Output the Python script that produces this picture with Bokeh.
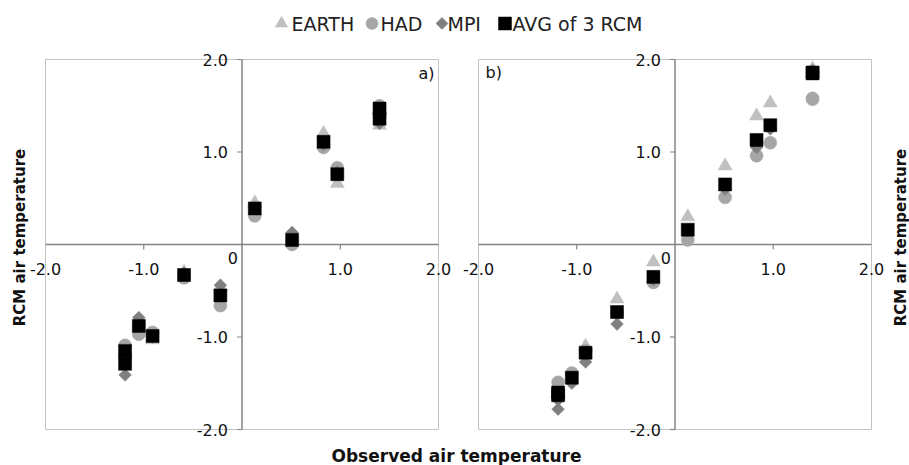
import numpy as np
from bokeh.plotting import figure
from bokeh.models import Range1d, Label
from bokeh.core.properties import value
from bokeh.embed import file_html
from bokeh.resources import INLINE

# ---------------- data ----------------
series_names = ["EARTH", "HAD", "MPI", "AVG of 3 RCM"]
observed = [-1.19, -1.19, -1.05, -0.91, -0.59, -0.22, 0.13, 0.51, 0.83, 0.97, 1.40, 1.40]

earth_a = [-1.15, -1.25, -0.86, -1.03, -0.30, -0.46, 0.45, 0.08, 1.20, 0.66, 1.45, 1.29]
had_a = [-1.09, -1.22, -0.97, -0.95, -0.36, -0.66, 0.31, 0.00, 1.05, 0.83, 1.50, 1.37]
mpi_a = [-1.18, -1.41, -0.79, -1.00, -0.31, -0.44, 0.40, 0.13, 1.08, 0.78, 1.46, 1.31]
avg_a = [-1.15, -1.29, -0.88, -0.99, -0.33, -0.55, 0.39, 0.05, 1.11, 0.76, 1.47, 1.36]

earth_b = [-1.60, -1.62, -1.42, -1.10, -0.59, -0.19, 0.30, 0.85, 1.39, 1.53, 1.90, 1.86]
had_b = [-1.49, -1.58, -1.39, -1.15, -0.74, -0.41, 0.05, 0.51, 0.96, 1.10, 1.58, 1.57]
mpi_b = [-1.68, -1.78, -1.50, -1.27, -0.86, -0.38, 0.15, 0.60, 1.05, 1.25, 1.88, 1.85]
avg_b = [-1.60, -1.63, -1.44, -1.17, -0.73, -0.35, 0.16, 0.65, 1.13, 1.29, 1.86, 1.85]

tick_values = [-2.0, -1.0, 1.0, 2.0]
tick_labels = ["-2.0", "-1.0", "1.0", "2.0"]
zero_label = "0"
panel_tags = ["a)", "b)"]
x_title = "Observed air temperature"
y_title = "RCM air temperature"

# ---------------- layout / style ----------------
W, H = 909, 465
PX = 393.0           # pixels for the 4-unit panel width
PY = 370.0           # pixels for the 4-unit panel height
LEFT_X0, RIGHT_X0, PANEL_Y0 = 45, 478, 36
lo, hi = min(tick_values), max(tick_values)
ux = (hi - lo) / PX
uy = (hi - lo) / PY

FONT = "DejaVu Sans"
TXT = "#111111"
markers = ["triangle", "circle", "square", "square"]
angles = [0, 0, np.pi / 4, 0]
sizes = [14, 13, 9, 13]
colors = ["#c0c0c0", "#a6a6a6", "#7f7f7f", "#000000"]

# legend layout (screen pixels, from the left / from the top)
LEG_MARK_X = [281, 371.5, 441.5, 504.5]
LEG_TEXT_X = [291, 380, 447, 512]
LEG_Y = 23
leg_sizes = [12.5, 12, 8.5, 13]

p = figure(width=W, height=H, output_backend="svg", toolbar_location=None,
           x_axis_type=None, y_axis_type=None,
           x_range=Range1d(0, W), y_range=Range1d(H, 0),
           min_border=0, outline_line_color=None)
p.title.visible = False
p.extra_x_ranges = {
    "a": Range1d(lo - LEFT_X0 * ux, lo + (W - LEFT_X0) * ux),
    "b": Range1d(lo - RIGHT_X0 * ux, lo + (W - RIGHT_X0) * ux),
}
p.extra_y_ranges = {"t": Range1d(lo - PANEL_Y0 * uy, lo + (H - PANEL_Y0) * uy)}

TICK_PX = 5
panels = [("a", [earth_a, had_a, mpi_a, avg_a]), ("b", [earth_b, had_b, mpi_b, avg_b])]
for idx, (rn, series) in enumerate(panels):
    kw = dict(x_range_name=rn, y_range_name="t")
    # plot box
    p.quad(left=[lo], right=[hi], bottom=[lo], top=[hi], fill_color=None,
           line_color="#c4c4c4", line_width=1, **kw)
    # axes through zero
    p.segment(x0=[lo, 0], y0=[0, lo], x1=[hi, 0], y1=[0, hi],
              line_color="#858585", line_width=1.5, **kw)
    inner = [v for v in tick_values if lo < v < hi]
    p.segment(x0=inner, x1=inner, y0=[0] * len(inner), y1=[-TICK_PX * uy] * len(inner),
              line_color="#858585", line_width=1.2, **kw)
    p.segment(x0=[0] * len(tick_values), x1=[-TICK_PX * ux] * len(tick_values),
              y0=tick_values, y1=tick_values, line_color="#858585", line_width=1.2, **kw)
    # tick labels
    p.text(x=tick_values, y=[0] * len(tick_values), text=tick_labels,
           text_align="center", text_baseline="middle", y_offset=24,
           text_font=value(FONT), text_font_size="16px", text_color=TXT, **kw)
    p.text(x=[0] * len(tick_values), y=tick_values, text=tick_labels,
           text_align="right", text_baseline="middle", x_offset=-14,
           text_font=value(FONT), text_font_size="16px", text_color=TXT, **kw)
    p.text(x=[0], y=[0], text=[zero_label], text_align="right", text_baseline="middle",
           x_offset=-4, y_offset=13,
           text_font=value(FONT), text_font_size="16px", text_color=TXT, **kw)
    # panel tag
    if idx == 0:
        p.text(x=[hi], y=[hi], text=[panel_tags[idx]], text_align="right",
               text_baseline="middle", x_offset=-4, y_offset=14,
               text_font=value(FONT), text_font_size="16px", text_color=TXT, **kw)
    else:
        p.text(x=[lo], y=[hi], text=[panel_tags[idx]], text_align="left",
               text_baseline="middle", x_offset=7, y_offset=13,
               text_font=value(FONT), text_font_size="16px", text_color=TXT, **kw)
    # data
    for k, ys in enumerate(series):
        p.scatter(x=observed, y=ys, marker=markers[k], size=sizes[k], angle=angles[k],
                  fill_color=colors[k], line_color=colors[k], line_width=0.5, **kw)

# legend (default range is in page pixels, y measured from the top)
p.scatter(x=LEG_MARK_X, y=[LEG_Y] * 4, marker=markers, size=leg_sizes, angle=angles,
          fill_color=colors, line_color=colors, line_width=0.5)
p.text(x=LEG_TEXT_X, y=[LEG_Y] * 4, text=series_names, text_align="left",
       text_baseline="middle", text_font=value(FONT), text_font_size="19px",
       text_color="#222222")

title_kw = dict(x_units="screen", y_units="screen", text_font=FONT, text_font_style="bold",
                text_color=TXT, text_align="center", text_baseline="middle")
p.add_layout(Label(x=19, y=H - 237, text=y_title, angle=np.pi / 2, text_font_size="15px", **title_kw))
p.add_layout(Label(x=900, y=H - 237, text=y_title, angle=np.pi / 2, text_font_size="15px", **title_kw))
p.add_layout(Label(x=456, y=H - 455, text=x_title, text_font_size="17px", **title_kw))

open("out.html", "w").write(file_html(p, INLINE))
